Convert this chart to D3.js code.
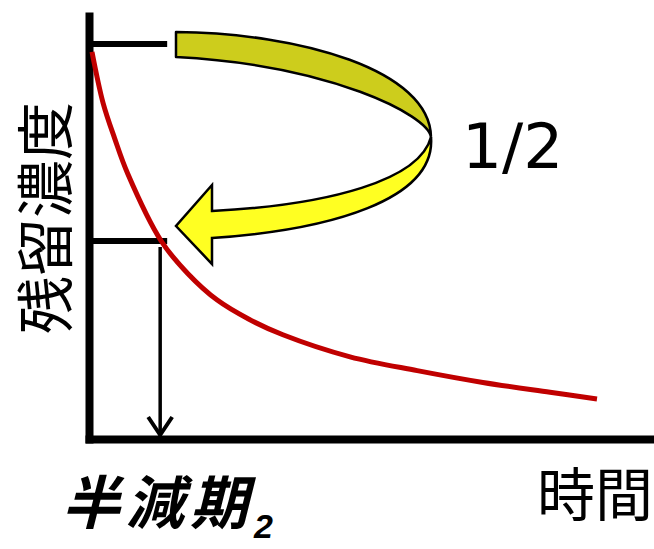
<!DOCTYPE html>
<html>
<head>
<meta charset="utf-8">
<script src="https://cdn.jsdelivr.net/npm/d3@7"></script>
<style>
  body { margin: 0; background: #fff; }
  svg { display: block; }
</style>
</head>
<body>
<script>
// 時間と残留濃度
const times = [0, 0.22, 0.45, 0.71, 1.37, 1.9, 2.48, 3.1, 3.78, 5.11, 6.44, 7.74, 9.07, 10];
const concentrations = [98, 85, 76, 67, 50, 41.7, 35, 30.2, 26.2, 20.6, 17.1, 14.1, 11.6, 9.9];
const startLevel = 100;
const halfLevel = 50;
const halfLife = 1.35;
const yLabel = "残留濃度";
const xLabel = "時間";
const halfLifeLabel = "半減期";
const ratioLabel = "1/2";

const width = 654, height = 549;

let svg = d3.select("body")
  .append("svg")
  .attr("width", width)
  .attr("height", height)

let x = d3.scaleLinear().domain([0, 10]).range([92, 597])
let y = d3.scaleLinear().domain([0, 100]).range([438, 44])

// 軸（目盛りなし）
let axisX = svg.append("g")
  .attr("transform", "translate(0,439)")
  .call(d3.axisBottom(d3.scaleLinear().domain([0, 1]).range([85, 660])).tickValues([]).tickSizeOuter(0))
axisX.select(".domain").attr("stroke", "#000").attr("stroke-width", 8)

let axisY = svg.append("g")
  .attr("transform", "translate(89,0)")
  .call(d3.axisLeft(d3.scaleLinear().domain([0, 1]).range([443, 12])).tickValues([]).tickSizeOuter(0))
axisY.select(".domain").attr("stroke", "#000").attr("stroke-width", 8)

// 初期濃度と半分の濃度の線
svg.selectAll("line.level")
  .data([startLevel, halfLevel])
  .enter()
  .append("line")
  .attr("class", "level")
  .attr("x1", 92)
  .attr("x2", x(halfLife) + 7)
  .attr("y1", d => y(d))
  .attr("y2", d => y(d))
  .attr("stroke", "#000")
  .attr("stroke-width", 6)

// 半減期の矢印
let hx = x(halfLife)
svg.append("line")
  .attr("x1", hx).attr("x2", hx)
  .attr("y1", y(halfLevel) + 6).attr("y2", y(0) - 2)
  .attr("stroke", "#000")
  .attr("stroke-width", 3.5)
svg.append("path")
  .attr("d", `M${hx - 12},${y(0) - 21} L${hx},${y(0) - 3} L${hx + 12},${y(0) - 21}`)
  .attr("fill", "none")
  .attr("stroke", "#000")
  .attr("stroke-width", 4)

// 減衰曲線
let line = d3.line()
  .x((d, i) => x(times[i]))
  .y(d => y(d))
  .curve(d3.curveCatmullRom.alpha(0.5))

svg.append("path")
  .datum(concentrations)
  .attr("d", line)
  .attr("fill", "none")
  .attr("stroke", "#C00000")
  .attr("stroke-width", 5)

// 黄色の曲がった矢印（上の帯と下の帯）
let ty = y(startLevel), hy = y(halfLevel)
let upper = `M176,${ty - 12} C300,${ty - 11} 430,${ty + 26} 431,${ty + 93}
  C428,${ty + 71} 330,${ty + 21} 176,${ty + 13} Z`
let lower = `M431,${ty + 93} C436,${hy - 41} 330,${hy - 11} 212,${hy - 3}
  L212,${hy + 23} L176,${hy - 15} L212,${hy - 56} L212,${hy - 30}
  C330,${hy - 36} 420,${hy - 61} 431,${ty + 93} Z`

svg.append("path")
  .attr("d", upper)
  .attr("fill", "#CDCD1C")
  .attr("stroke", "#000")
  .attr("stroke-width", 2.5)
  .attr("stroke-linejoin", "round")
svg.append("path")
  .attr("d", lower)
  .attr("fill", "#FFFF22")
  .attr("stroke", "#000")
  .attr("stroke-width", 2.5)
  .attr("stroke-linejoin", "miter")

// 文字
svg.append("text")
  .attr("x", 462)
  .attr("y", 168)
  .attr("font-family", "DejaVu Sans")
  .attr("font-size", 63)
  .attr("fill", "#000")
  .text(ratioLabel)

svg.append("text")
  .attr("transform", "translate(67,218) rotate(-90)")
  .attr("text-anchor", "middle")
  .attr("font-family", "Noto Sans CJK JP")
  .attr("font-size", 58)
  .attr("fill", "#000")
  .text(yLabel)

svg.append("text")
  .attr("x", 537)
  .attr("y", 516)
  .attr("font-family", "Noto Sans CJK JP")
  .attr("font-size", 58)
  .attr("fill", "#000")
  .text(xLabel)

let hl = svg.append("text")
  .attr("x", 62)
  .attr("y", 524)
  .attr("font-family", "Noto Sans CJK JP")
  .attr("font-size", 58)
  .attr("font-weight", "bold")
  .attr("font-style", "italic")
  .attr("letter-spacing", 6)
  .attr("fill", "#000")
hl.append("tspan").text(halfLifeLabel)
hl.append("tspan")
  .attr("font-family", "Liberation Sans")
  .attr("font-size", 34)
  .attr("letter-spacing", 0)
  .attr("dy", 14)
  .attr("dx", 0)
  .text("2")
</script>
</body>
</html>
